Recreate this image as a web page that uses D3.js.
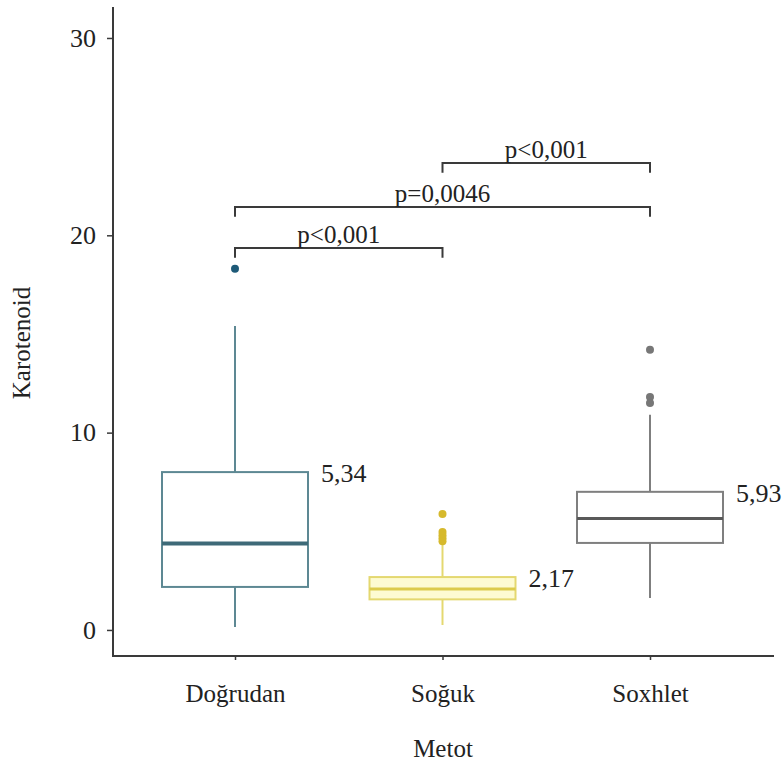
<!DOCTYPE html>
<html><head><meta charset="utf-8">
<script src="https://cdn.jsdelivr.net/npm/d3@7"></script>
<style>body{margin:0;background:#fff}svg text{font-family:"Liberation Serif","Times New Roman",serif;fill:#222}</style>
</head><body><svg id="c" width="782" height="764"></svg>
<script>
const categories = ["Doğrudan","Soğuk","Soxhlet"];
const q1 = [2.18, 1.55, 4.41];
const medians = [4.38, 2.08, 5.65];
const q3 = [8.0, 2.68, 7.0];
const whiskerLow = [0.15, 0.25, 1.62];
const whiskerHigh = [15.4, 4.4, 10.9];
const outliers = [[18.3],[5.88,4.97,4.8,4.65,4.5],[14.2,11.8,11.5]];
const meanLabels = ["5,34","2,17","5,93"];
const yTicks = [0,10,20,30];
const comparisons = [
  {from:0,to:1,level:19.36,label:"p<0,001"},
  {from:0,to:2,level:21.44,label:"p=0,0046"},
  {from:1,to:2,level:23.67,label:"p<0,001"}
];
const xTitle = "Metot", yTitle = "Karotenoid";

const styles = [
  {stroke:"#5d8893",fill:"#ffffff",median:"#3e6a78",mw:4,pt:"#1e5a78"},
  {stroke:"#e4d870",fill:"#fdfbd2",median:"#dccb4c",mw:3,pt:"#d6b92c"},
  {stroke:"#7f7f7f",fill:"#ffffff",median:"#595959",mw:3,pt:"#777777"}
];

const svg = d3.select("#c");
const y = d3.scaleLinear().domain([-1.32,31.57]).range([656,7]);
const x = d3.scalePoint().domain(categories).range([235,650]);
const boxW = 146;

// axes
svg.append("line").attr("x1",113).attr("x2",113).attr("y1",7).attr("y2",656).attr("stroke","#3a3a3a").attr("stroke-width",2);
svg.append("line").attr("x1",112).attr("x2",774).attr("y1",656).attr("y2",656).attr("stroke","#3a3a3a").attr("stroke-width",2);

const ya = svg.append("g").attr("transform","translate(113,0)")
  .call(d3.axisLeft(y).tickValues(yTicks).tickSize(6).tickPadding(11));
ya.select(".domain").remove();
ya.selectAll("line").attr("stroke","#3a3a3a").attr("stroke-width",1.5);
ya.selectAll("text").attr("font-size",26).attr("fill","#222");

const xa = svg.append("g").attr("transform","translate(0,656)")
  .call(d3.axisBottom(x).tickSize(4).tickPadding(24));
xa.select(".domain").remove();
xa.selectAll("line").attr("stroke","#3a3a3a").attr("stroke-width",1.5);
xa.selectAll("text").attr("font-size",25).attr("fill","#222");

svg.append("text").attr("x",443).attr("y",757).attr("text-anchor","middle").attr("font-size",25).text(xTitle);
svg.append("text").attr("transform","translate(30,343) rotate(-90)").attr("text-anchor","middle").attr("font-size",25).text(yTitle);

// boxes
categories.forEach((c,i)=>{
  const cx = x(c), s = styles[i];
  const g = svg.append("g");
  g.append("line").attr("x1",cx).attr("x2",cx).attr("y1",y(whiskerHigh[i])).attr("y2",y(q3[i])).attr("stroke",s.stroke).attr("stroke-width",2);
  g.append("line").attr("x1",cx).attr("x2",cx).attr("y1",y(q1[i])).attr("y2",y(whiskerLow[i])).attr("stroke",s.stroke).attr("stroke-width",2);
  g.append("rect").attr("x",cx-boxW/2).attr("width",boxW).attr("y",y(q3[i])).attr("height",y(q1[i])-y(q3[i]))
    .attr("fill",s.fill).attr("stroke",s.stroke).attr("stroke-width",2);
  g.append("line").attr("x1",cx-boxW/2).attr("x2",cx+boxW/2).attr("y1",y(medians[i])).attr("y2",y(medians[i])).attr("stroke",s.median).attr("stroke-width",s.mw);
  outliers[i].forEach(v=>{
    g.append("circle").attr("cx",cx).attr("cy",y(v)).attr("r",4).attr("fill",s.pt);
  });
  svg.append("text").attr("x",cx+boxW/2+13).attr("y",y(q3[i])+10).attr("font-size",26).text(meanLabels[i]);
});

// comparison brackets
comparisons.forEach(cp=>{
  const x1 = x(categories[cp.from]), x2 = x(categories[cp.to]);
  const yl = y(cp.level), yt = y(cp.level-0.5);
  svg.append("path").attr("d",`M${x1},${yt}V${yl}H${x2}V${yt}`).attr("fill","none").attr("stroke","#3a3a3a").attr("stroke-width",2);
  svg.append("text").attr("x",(x1+x2)/2).attr("y",yl-5).attr("text-anchor","middle").attr("font-size",25).text(cp.label);
});
</script></body></html>
